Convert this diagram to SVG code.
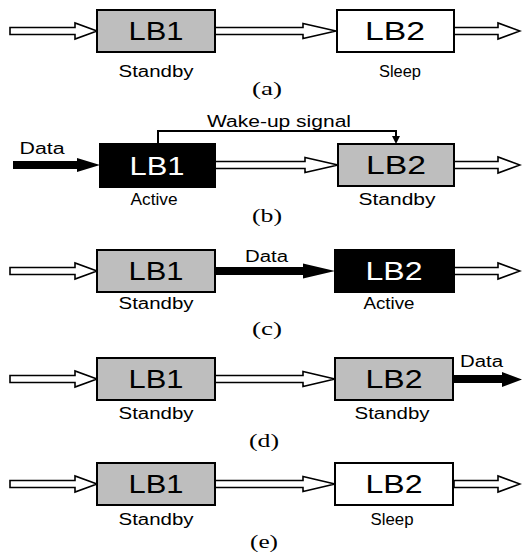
<svg xmlns="http://www.w3.org/2000/svg" width="522" height="552" viewBox="0 0 522 552">
<style>
.box{stroke:#000;stroke-width:2}
.gray{fill:#bebebe}
.white{fill:#fff}
.black{fill:#000}
.lbl{font-family:"Liberation Sans",Arial,sans-serif;font-size:25px;text-anchor:middle}
.st{font-family:"Liberation Sans",Arial,sans-serif;font-size:16px;text-anchor:middle;fill:#000}
.cap{font-family:"Liberation Serif","Times New Roman",serif;font-size:19px;text-anchor:middle;fill:#000}
.ha{fill:#fff;stroke:#000;stroke-width:1.6;stroke-linejoin:miter}
.ba{fill:#000;stroke:none}
.wl{fill:none;stroke:#000;stroke-width:2}
</style>

<g id="connectors">
<!-- row a -->
<polygon class="ha" points="10,27.5 75,27.5 75,23 97,31 75,39 75,34.5 10,34.5"/>
<polygon class="ha" points="215,27.5 303,27.5 303,23.5 336,31 303,38.5 303,34.5 215,34.5"/>
<polygon class="ha" points="454,27.5 498,27.5 498,23 520,31 498,39 498,34.5 454,34.5"/>
<!-- row b -->
<polygon class="ba" points="13,161 77,161 77,158 100,165 77,172 77,169 13,169"/>
<polygon class="ha" points="215,161.5 305,161.5 305,157.5 338,165 305,172.5 305,168.5 215,168.5"/>
<polygon class="ha" points="454,161.5 498,161.5 498,157 520,165 498,173 498,168.5 454,168.5"/>
<path class="wl" d="M158,144 V131 H396 V137"/>
<path d="M392,136 L400,136 L396,144 Z" fill="#000"/>
<!-- row c -->
<polygon class="ha" points="10,267.5 75,267.5 75,263 97,271 75,279 75,274.5 10,274.5"/>
<polygon class="ba" points="215,267 303,267 303,263.5 335,271 303,278.5 303,275 215,275"/>
<polygon class="ha" points="454,267.5 498,267.5 498,263 520,271 498,279 498,274.5 454,274.5"/>
<!-- row d -->
<polygon class="ha" points="10,375.5 75,375.5 75,371 97,379 75,387 75,382.5 10,382.5"/>
<polygon class="ha" points="215,375.5 303,375.5 303,371.5 335,379 303,386.5 303,382.5 215,382.5"/>
<polygon class="ba" points="454,375 502,375 502,372 522,379.5 502,387 502,383 454,383"/>
<!-- row e -->
<polygon class="ha" points="10,480.5 75,480.5 75,476 97,484 75,492 75,487.5 10,487.5"/>
<polygon class="ha" points="215,480.5 303,480.5 303,476.5 335,484 303,491.5 303,487.5 215,487.5"/>
<polygon class="ha" points="454,480.5 498,480.5 498,476 520,484 498,492 498,487.5 454,487.5"/>
</g>

<!-- row a -->
<g id="a-lb1">
<rect class="box gray" x="97" y="10" width="118" height="42"/>
<text class="lbl" x="156" y="40" textLength="55" lengthAdjust="spacingAndGlyphs">LB1</text>
<text class="st" x="156" y="77" textLength="75" lengthAdjust="spacingAndGlyphs">Standby</text>
</g>
<g id="a-lb2">
<rect class="box white" x="337" y="10" width="117" height="42"/>
<text class="lbl" x="395" y="40" textLength="60" lengthAdjust="spacingAndGlyphs">LB2</text>
<text class="st" x="400" y="77" textLength="42" lengthAdjust="spacingAndGlyphs">Sleep</text>
</g>
<text class="cap" x="267" y="95" textLength="30" lengthAdjust="spacingAndGlyphs">(a)</text>

<!-- row b -->
<g id="b-lb1">
<rect class="box black" x="100" y="144" width="115" height="43"/>
<text class="lbl" x="157" y="175" fill="#fff" textLength="55" lengthAdjust="spacingAndGlyphs">LB1</text>
<text class="st" x="154" y="205" textLength="47" lengthAdjust="spacingAndGlyphs">Active</text>
</g>
<g id="b-lb2">
<rect class="box gray" x="338" y="144" width="116" height="42"/>
<text class="lbl" x="396" y="174" textLength="60" lengthAdjust="spacingAndGlyphs">LB2</text>
<text class="st" x="397" y="205" textLength="77" lengthAdjust="spacingAndGlyphs">Standby</text>
</g>
<text class="st" x="42" y="154" textLength="45" lengthAdjust="spacingAndGlyphs">Data</text>
<text class="st" x="279" y="127" textLength="144" lengthAdjust="spacingAndGlyphs">Wake-up signal</text>
<text class="cap" x="267" y="222" textLength="30" lengthAdjust="spacingAndGlyphs">(b)</text>

<!-- row c -->
<g id="c-lb1">
<rect class="box gray" x="97" y="250" width="118" height="42"/>
<text class="lbl" x="156" y="280" textLength="55" lengthAdjust="spacingAndGlyphs">LB1</text>
<text class="st" x="156" y="309" textLength="75" lengthAdjust="spacingAndGlyphs">Standby</text>
</g>
<g id="c-lb2">
<rect class="box black" x="335" y="250" width="119" height="42"/>
<text class="lbl" x="394" y="280" fill="#fff" textLength="57" lengthAdjust="spacingAndGlyphs">LB2</text>
<text class="st" x="389" y="309" textLength="51" lengthAdjust="spacingAndGlyphs">Active</text>
</g>
<text class="st" x="266.5" y="262" textLength="43" lengthAdjust="spacingAndGlyphs">Data</text>
<text class="cap" x="267" y="335" textLength="30" lengthAdjust="spacingAndGlyphs">(c)</text>

<!-- row d -->
<g id="d-lb1">
<rect class="box gray" x="97" y="358" width="118" height="42"/>
<text class="lbl" x="156" y="388" textLength="55" lengthAdjust="spacingAndGlyphs">LB1</text>
<text class="st" x="156" y="419" textLength="75" lengthAdjust="spacingAndGlyphs">Standby</text>
</g>
<g id="d-lb2">
<rect class="box gray" x="335" y="358" width="118" height="42"/>
<text class="lbl" x="394" y="388" textLength="57" lengthAdjust="spacingAndGlyphs">LB2</text>
<text class="st" x="392" y="419" textLength="75" lengthAdjust="spacingAndGlyphs">Standby</text>
</g>
<text class="st" x="481.5" y="367" textLength="43" lengthAdjust="spacingAndGlyphs">Data</text>
<text class="cap" x="264" y="447" textLength="30" lengthAdjust="spacingAndGlyphs">(d)</text>

<!-- row e -->
<g id="e-lb1">
<rect class="box gray" x="97" y="463" width="118" height="42"/>
<text class="lbl" x="156" y="493" textLength="55" lengthAdjust="spacingAndGlyphs">LB1</text>
<text class="st" x="156" y="525" textLength="75" lengthAdjust="spacingAndGlyphs">Standby</text>
</g>
<g id="e-lb2">
<rect class="box white" x="335" y="463" width="118" height="42"/>
<text class="lbl" x="394" y="493" textLength="57" lengthAdjust="spacingAndGlyphs">LB2</text>
<text class="st" x="392" y="525" textLength="43" lengthAdjust="spacingAndGlyphs">Sleep</text>
</g>
<text class="cap" x="264" y="548" textLength="28" lengthAdjust="spacingAndGlyphs">(e)</text>
</svg>
